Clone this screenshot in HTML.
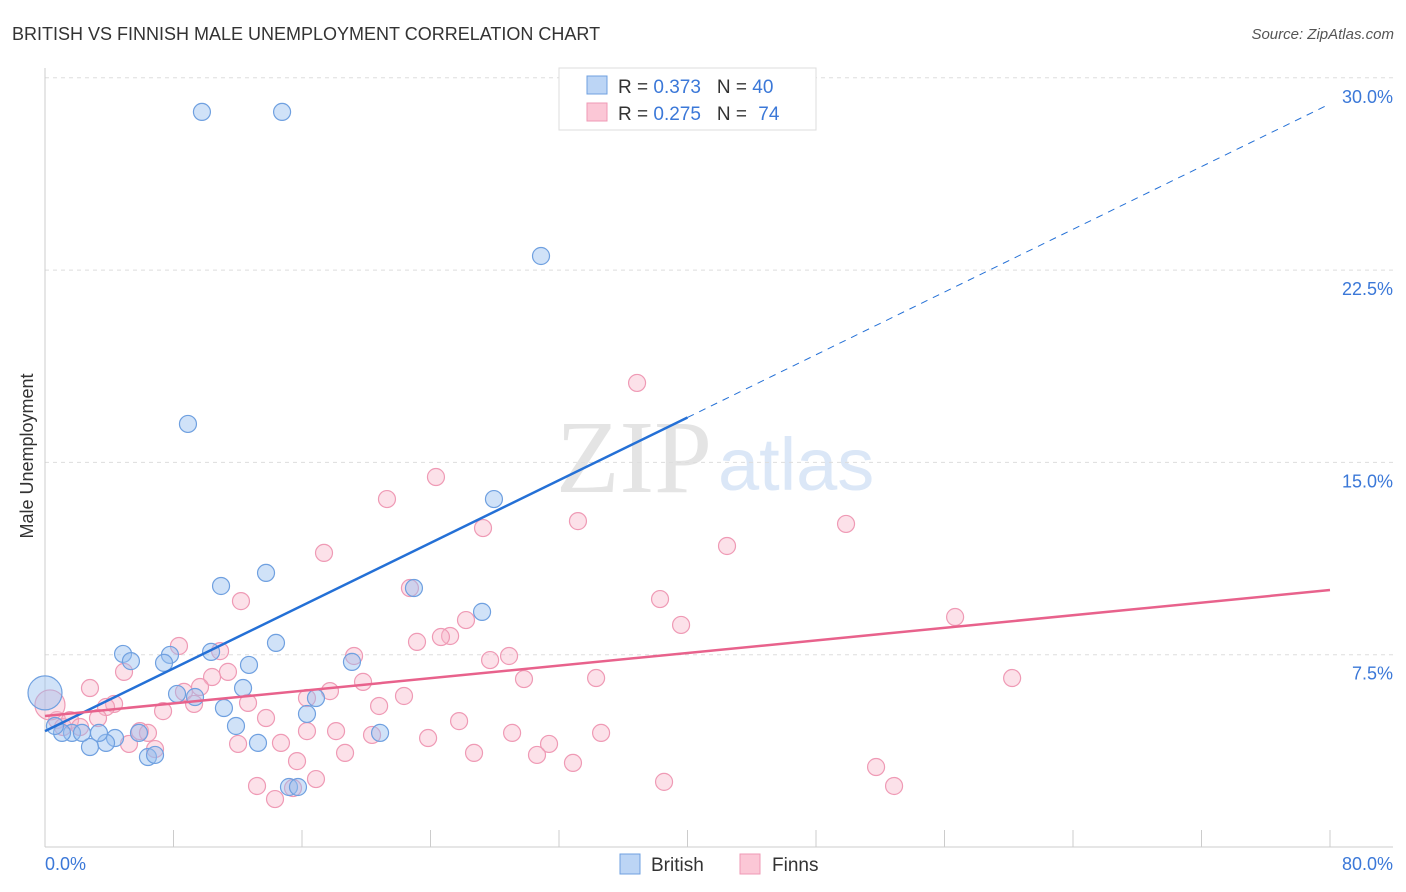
<!DOCTYPE html>
<html><head><meta charset="utf-8"><style>
body{margin:0;background:#fff;font-family:"Liberation Sans",sans-serif}
svg{display:block}
</style></head><body>
<svg width="1406" height="892" xmlns="http://www.w3.org/2000/svg">
<text x="12" y="40" font-size="18" fill="#333">BRITISH VS FINNISH MALE UNEMPLOYMENT CORRELATION CHART</text>
<text x="1394" y="39" font-size="15" fill="#555" font-style="italic" text-anchor="end">Source: ZipAtlas.com</text>
<text x="556" y="492" font-size="104" fill="#e4e4e4" font-family="Liberation Serif,serif">ZIP</text>
<text x="718" y="490" font-size="74" fill="#dbe7f7">atlas</text>
<g id="grid"></g>
<line x1="45" y1="68" x2="45" y2="847" stroke="#ccc"/>
<line x1="45" y1="847" x2="1393" y2="847" stroke="#ccc"/>
<g id="ticks"></g>
<text x="33" y="456" font-size="18" fill="#333" text-anchor="middle" transform="rotate(-90 33 456)">Male Unemployment</text>
<text x="45" y="870" font-size="18" fill="#3b78d8">0.0%</text>
<text x="1393" y="870" font-size="18" fill="#3b78d8" text-anchor="end">80.0%</text>
<g id="pts"></g>
<g id="lines"></g>
<g>
<rect x="559" y="68" width="257" height="62" fill="#fff" stroke="#ddd"/>
<rect x="587" y="76" width="20" height="18" fill="#bcd5f5" stroke="#6fa0e0"/>
<rect x="587" y="103" width="20" height="18" fill="#fbc7d6" stroke="#ef9ab5"/>
<text x="618" y="93" font-size="19" fill="#333">R = <tspan fill="#3b78d8">0.373</tspan><tspan dx="16">N = </tspan><tspan fill="#3b78d8">40</tspan></text>
<text x="618" y="120" font-size="19" fill="#333">R = <tspan fill="#3b78d8">0.275</tspan><tspan dx="16">N = </tspan><tspan fill="#3b78d8" dx="6">74</tspan></text>
</g>
<g><rect x="620" y="854" width="20" height="20" fill="#bcd5f5" stroke="#6fa0e0"/><text x="651" y="871" font-size="19" fill="#333">British</text></g>
<g><rect x="740" y="854" width="20" height="20" fill="#fbc7d6" stroke="#ef9ab5"/><text x="772" y="871" font-size="19" fill="#333">Finns</text></g>
</svg>
<script>
const yTicks=[7.5,15,22.5,30];
const yTickLabels=["7.5%","15.0%","22.5%","30.0%"];
const xTicks=[0,8,16,24,32,40,48,56,64,72,80];
const britishX=[9.77,14.76,30.88,8.90,27.95,27.21,13.76,10.96,22.97,4.86,5.35,7.78,7.41,10.34,12.70,14.38,19.11,12.33,8.22,9.34,11.14,16.87,16.31,11.89,13.26,20.86,5.85,4.36,3.80,2.80,3.36,1.68,1.06,2.30,6.41,6.85,15.19,15.75,0.0,0.62];
const britishY=[28.67,28.67,23.05,16.50,13.57,9.17,10.69,10.18,10.10,7.53,7.25,7.49,7.18,7.61,7.10,7.96,7.22,6.20,5.97,5.85,5.42,5.81,5.19,4.72,4.06,4.45,4.45,4.25,4.06,3.90,4.45,4.45,4.45,4.45,3.51,3.59,2.34,2.34,6.01,4.72];
const finnsX=[36.86,24.34,21.29,33.18,49.87,27.27,17.37,42.46,22.72,38.29,12.20,56.66,39.60,26.21,25.22,24.65,23.16,8.34,10.90,19.24,28.89,27.71,4.92,11.39,10.40,19.80,29.82,34.31,60.21,2.80,8.65,9.65,17.74,22.35,16.31,9.28,12.64,4.30,3.80,7.35,20.80,25.78,13.76,3.30,16.31,18.12,29.08,34.62,20.36,5.91,6.41,5.23,6.85,12.02,14.69,23.85,31.38,18.68,26.71,30.63,15.69,32.87,51.74,16.87,13.20,38.54,52.86,14.32,15.44,0.75,1.12,0.31,1.56,2.18];
const finnsY=[18.10,14.43,13.57,12.71,12.60,12.44,11.47,11.74,10.10,9.67,9.59,8.97,8.66,8.85,8.23,8.19,8.00,7.84,7.64,7.45,7.45,7.29,6.83,6.83,6.63,6.44,6.55,6.59,6.59,6.20,6.05,6.24,6.08,5.89,5.81,5.58,5.62,5.58,5.46,5.30,5.50,4.91,5.03,5.03,4.52,4.52,4.45,4.45,4.37,4.52,4.45,4.02,3.82,4.02,4.06,4.25,4.02,3.67,3.67,3.59,3.35,3.28,3.12,2.65,2.38,2.54,2.38,1.87,2.30,4.95,4.68,5.54,4.95,4.68];
const britishTrend=[4.52,0.3058]; // intercept, slope
const finnsTrend=[5.11,0.0614];
const NS="http://www.w3.org/2000/svg";
const sx=v=>45+v*(1285/80);
const sy=v=>847-v*(192.3/7.5);
function mk(t,a,p){const e=document.createElementNS(NS,t);for(const k in a)e.setAttribute(k,a[k]);p.appendChild(e);return e;}
const grid=document.getElementById('grid');
yTicks.forEach((t,i)=>{
  const l=mk('line',{x1:45,x2:1393,y1:sy(t),y2:sy(t),stroke:'#ddd','stroke-dasharray':'4 4'},grid);
  
  
  const tx=mk('text',{x:1393,y:sy(t)+25,'font-size':18,fill:'#3b78d8','text-anchor':'end'},grid);
  tx.textContent=yTickLabels[i];
  
  
});
const tk=document.getElementById('ticks');
xTicks.forEach(t=>{
  const l=mk('line',{x1:sx(t),x2:sx(t),y1:830,y2:847,stroke:'#ccc'},tk);
  
  
});
const pts=document.getElementById('pts');
function dot(x,y,r,f,s,name){
  const c=mk('circle',{cx:sx(x),cy:sy(y),r:r,fill:f,stroke:s,'stroke-width':1.2},pts);
  
  
}
finnsX.forEach((x,i)=>dot(x,finnsY[i],i==71?15:8.5,'rgba(248,180,200,0.4)','#ef9ab5','finns-point'));
britishX.forEach((x,i)=>dot(x,britishY[i],i==38?17:8.5,'rgba(150,190,240,0.45)','#6fa0e0','british-point'));
const lg=document.getElementById('lines');
const bEnd=40;
let l1=mk('line',{x1:sx(0),y1:sy(britishTrend[0]),x2:sx(bEnd),y2:sy(britishTrend[0]+britishTrend[1]*bEnd),stroke:'#2470d6','stroke-width':2.5},lg);


let l2=mk('line',{x1:sx(bEnd),y1:sy(britishTrend[0]+britishTrend[1]*bEnd),x2:sx(80),y2:sy(britishTrend[0]+britishTrend[1]*80),stroke:'#2470d6','stroke-width':1,'stroke-dasharray':'7 6'},lg);


let l3=mk('line',{x1:sx(0),y1:sy(finnsTrend[0]),x2:sx(80),y2:sy(finnsTrend[0]+finnsTrend[1]*80),stroke:'#e8628c','stroke-width':2.5},lg);


</script>
</body></html>
